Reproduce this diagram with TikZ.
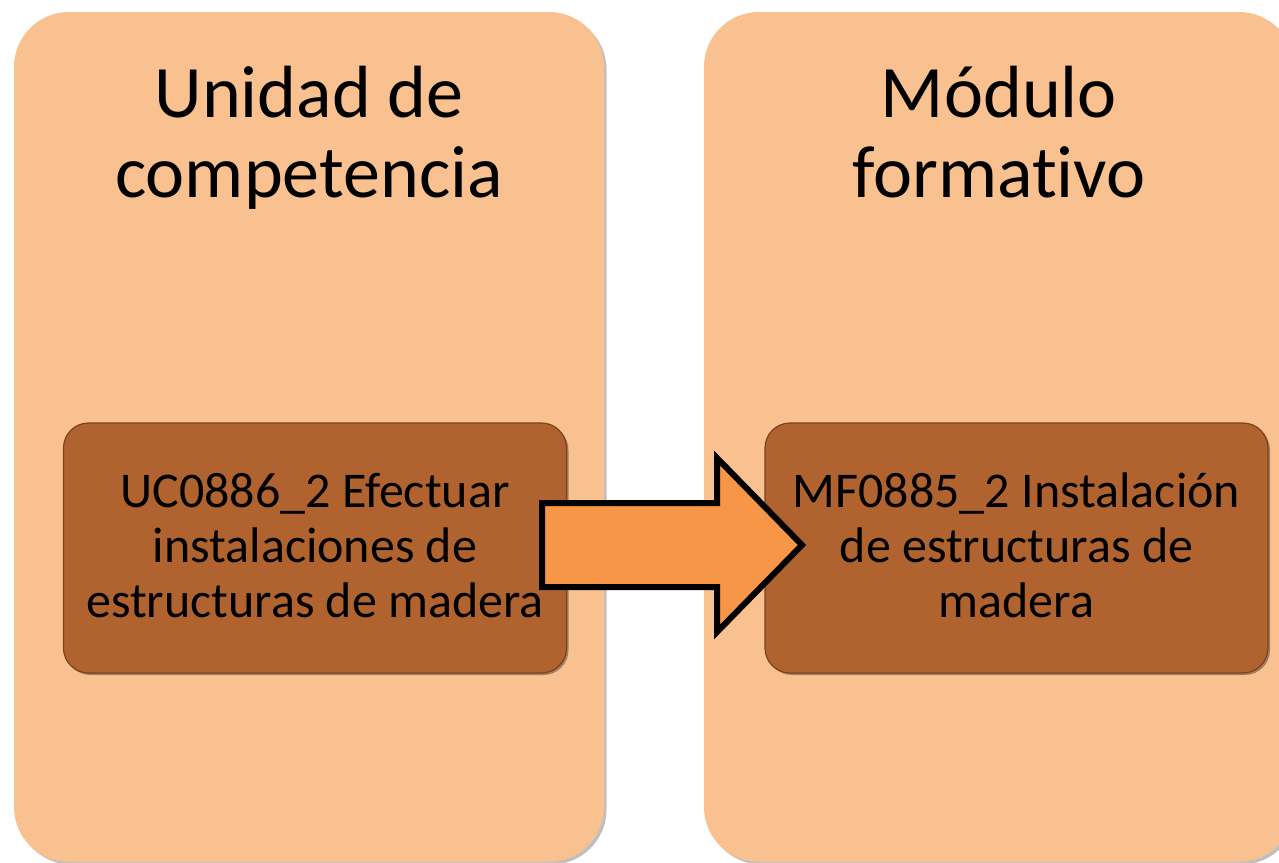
\documentclass[tikz,border=0pt]{standalone}
\usepackage{fontspec}
\setmainfont[Ligatures={NoCommon}]{Carlito}
\usetikzlibrary{shadows}
\definecolor{panelfill}{HTML}{F9C090}
\definecolor{boxfill}{HTML}{B0632F}
\definecolor{boxline}{HTML}{7A4420}
\definecolor{arrowfill}{HTML}{F79646}
\tikzset{
  panel/.style={draw=none, fill=panelfill, rounded corners=55pt, minimum width=590pt, minimum height=850pt, inner sep=0pt,
    drop shadow={shadow xshift=2.5pt, shadow yshift=-2.5pt, opacity=.25, fill=black}},
  itembox/.style={draw=boxline, line width=1.2pt, fill=boxfill, rounded corners=25pt, minimum width=503pt, minimum height=250pt, inner sep=0pt,
    drop shadow={shadow xshift=2pt, shadow yshift=-2pt, opacity=.35, fill=black}},
  titletext/.style={align=center, font=\fontsize{74}{80}\selectfont, inner sep=0pt},
  itemtext/.style={align=center, font=\fontsize{50}{55}\selectfont, inner sep=0pt},
  blockarrow/.style={draw=black, line width=6pt, fill=arrowfill, miter limit=10}
}
\begin{document}
\begin{tikzpicture}[x=1pt,y=-1pt]
\useasboundingbox (0,0) rectangle (1279,862);
\clip (0,0) rectangle (1279,862);
\node[panel] (lp) at (309,437) {};
\node[panel] (rp) at (999,437) {};
\node[titletext, anchor=base] (lt) at (309,197) {Unidad de\\competencia};
\node[titletext, anchor=base] (rt) at (999,197) {Módulo\\formativo};
\node[itembox] (lb) at (315,548) {};
\node[itembox] (rb) at (1016.5,548) {};
\node[itemtext, anchor=base] (lbt) at (315,617) {UC0886\_2 Efectuar\\instalaciones de\\estructuras de madera};
\node[itemtext, anchor=base] (rbt) at (1016.5,617) {MF0885\_2 Instalación\\de estructuras de\\madera};
\draw[blockarrow] (542,503) -- (717,503) -- (717,458) -- (802,545) -- (717,632) -- (717,587) -- (542,587) -- cycle;
\end{tikzpicture}
\end{document}
